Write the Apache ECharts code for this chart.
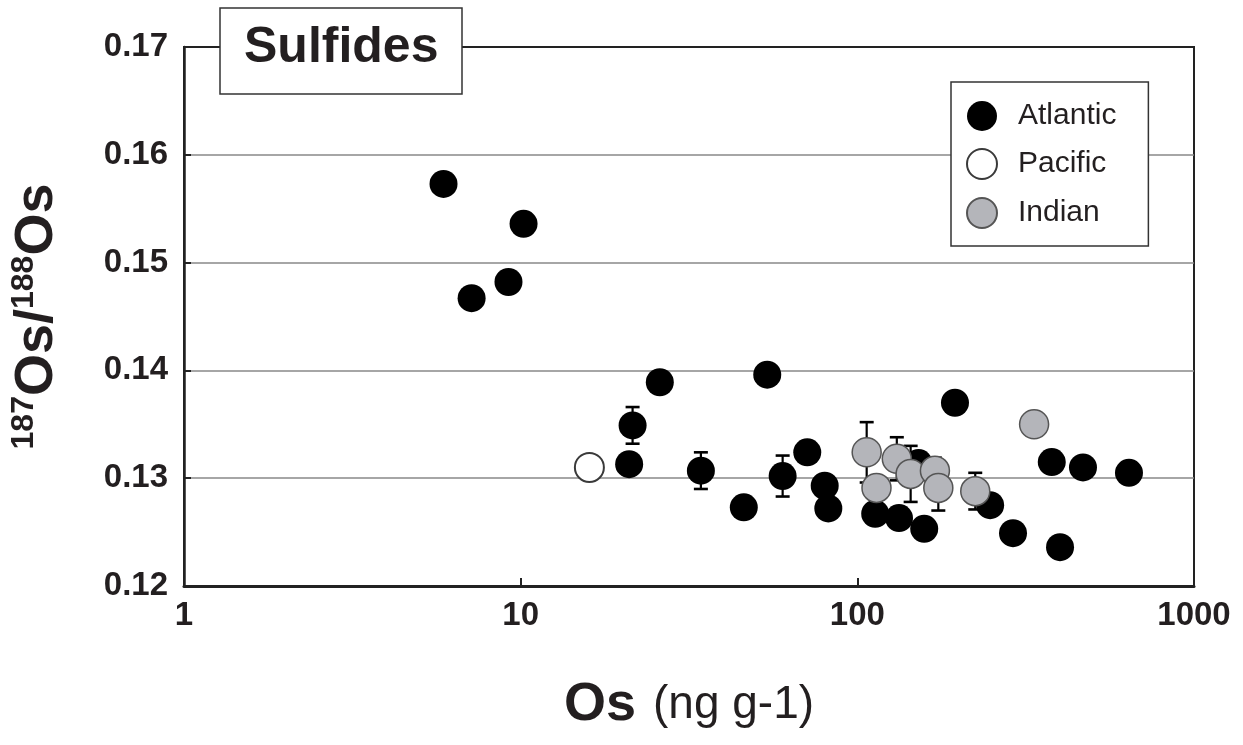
<!DOCTYPE html>
<html>
<head>
<meta charset="utf-8">
<script src="https://cdn.jsdelivr.net/npm/echarts@6/dist/echarts.min.js"></script>
<style>
html,body{margin:0;padding:0;background:#fff;}
#chart{width:1243px;height:745px;}
</style>
</head>
<body>
<div id="chart"></div>
<script>
// ---- data ----
const xTickLabels = ['1', '10', '100', '1000'];
const yTickValues = [0.12, 0.13, 0.14, 0.15, 0.16, 0.17];

const atlanticX = [5.9, 7.15, 9.2, 10.2, 25.9, 54, 21.5, 21, 34.3, 46, 60, 71, 80, 82, 113, 133, 158, 152, 195, 248, 290, 378, 400, 468, 641];
const atlanticY = [0.1573, 0.1467, 0.1482, 0.1536, 0.1389, 0.1396, 0.1349, 0.1313, 0.1307, 0.1273, 0.1302, 0.1324, 0.1293, 0.1272, 0.1267, 0.1263, 0.1253, 0.1314, 0.1370, 0.1275, 0.1249, 0.1315, 0.1236, 0.1310, 0.1305];
const atlanticErr = [0, 0, 0, 0, 0, 0, 0.0017, 0, 0.0017, 0, 0.0019, 0, 0, 0, 0, 0, 0, 0, 0, 0, 0, 0, 0, 0, 0];

const pacificX = [16.0];
const pacificY = [0.1310];

const indianX = [106.6, 114, 131, 144, 170, 174, 224, 335];
const indianY = [0.1324, 0.1291, 0.1318, 0.1304, 0.1307, 0.1291, 0.1288, 0.1350];
const indianErr = [0.0028, 0, 0.0020, 0.0026, 0.0012, 0.0021, 0.0017, 0];

// ---- build ----
const zip = (xs, ys) => xs.map((x, i) => [x, ys[i]]);
const zipErr = (xs, ys, es) => xs.map((x, i) => [x, ys[i], es[i]]).filter(d => d[2] > 0);

const TXT = '#231f20';
const SANS = '"Liberation Sans", Arial, sans-serif';

function errRender(params, api) {
  const x = api.value(0), y = api.value(1), e = api.value(2);
  const top = api.coord([x, y + e]);
  const bot = api.coord([x, y - e]);
  const cap = 7;
  return {
    type: 'group',
    children: [
      { type: 'line', shape: { x1: top[0], y1: top[1], x2: bot[0], y2: bot[1] }, style: { stroke: '#000', lineWidth: 2.2 } },
      { type: 'line', shape: { x1: top[0] - cap, y1: top[1], x2: top[0] + cap, y2: top[1] }, style: { stroke: '#000', lineWidth: 2.6 } },
      { type: 'line', shape: { x1: bot[0] - cap, y1: bot[1], x2: bot[0] + cap, y2: bot[1] }, style: { stroke: '#000', lineWidth: 2.6 } }
    ]
  };
}

const chart = echarts.init(document.getElementById('chart'), null, { renderer: 'canvas' });
chart.setOption({
  animation: false,
  backgroundColor: '#fff',
  title: {
    text: 'Sulfides',
    left: 220, top: 8,
    padding: [15, 24, 21, 24],
    borderColor: '#333', borderWidth: 1.5,
    backgroundColor: '#fff',
    textStyle: { fontFamily: SANS, fontSize: 50, fontWeight: 'bold', color: TXT, lineHeight: 50 }
  },
  legend: {
    data: ['Atlantic', 'Pacific', 'Indian'],
    orient: 'vertical',
    left: 951, top: 82,
    itemWidth: 30, itemHeight: 30, itemGap: 17,
    padding: [19, 32, 17, 15],
    borderColor: '#333', borderWidth: 1.5,
    backgroundColor: '#fff',
    icon: 'circle',
    textStyle: { fontFamily: SANS, fontSize: 30, color: TXT, padding: [0, 0, 0, 16] }
  },
  grid: {
    left: 183, right: 49, top: 47, bottom: 159,
    show: true, borderColor: '#222', borderWidth: 2, backgroundColor: 'transparent'
  },
  xAxis: {
    type: 'log', logBase: 10, min: 1, max: 1000,
    name: '{b|Os}{n|(ng g-1)}',
    nameLocation: 'middle', nameGap: 90,
    nameTextStyle: {
      rich: {
        b: { fontFamily: SANS, fontSize: 54, fontWeight: 'bold', color: TXT, lineHeight: 58 },
        n: { fontFamily: SANS, fontSize: 46, color: TXT, lineHeight: 58, padding: [0, 0, 0, 17] }
      }
    },
    axisLine: { show: true, lineStyle: { color: '#222', width: 3 } },
    axisTick: { show: true, inside: true, length: 8, lineStyle: { color: '#222', width: 2 } },
    minorTick: { show: false },
    splitLine: { show: false },
    axisLabel: {
      margin: 13, fontFamily: SANS, fontSize: 33, fontWeight: 'bold', color: TXT,
      formatter: v => xTickLabels[Math.round(Math.log10(v))]
    }
  },
  yAxis: {
    type: 'value', min: 0.12, max: 0.17, interval: 0.01,
    name: '{sup|187}{os|Os/}{sup|188}{os|Os}',
    nameLocation: 'middle', nameGap: 118,
    nameTextStyle: {
      rich: {
        sup: { fontFamily: SANS, fontSize: 32, fontWeight: 'bold', color: TXT, verticalAlign: 'top', lineHeight: 32 },
        os: { fontFamily: SANS, fontSize: 54, fontWeight: 'bold', color: TXT, lineHeight: 58 }
      }
    },
    axisLine: { show: true, lineStyle: { color: '#222', width: 2.5 } },
    axisTick: { show: true, inside: true, length: 7, lineStyle: { color: '#222', width: 2 } },
    splitLine: { show: true, showMinLine: false, showMaxLine: false, lineStyle: { color: '#888', width: 1.5 } },
    axisLabel: {
      margin: 16, fontFamily: SANS, fontSize: 33, fontWeight: 'bold', color: TXT,
      formatter: v => v.toFixed(2)
    }
  },
  series: [
    {
      name: 'Atlantic', type: 'scatter', symbol: 'circle', symbolSize: 28,
      itemStyle: { color: '#000', borderColor: '#000', borderWidth: 0, opacity: 1 },
      data: zip(atlanticX, atlanticY), z: 2
    },
    {
      name: 'AtlanticErr', type: 'custom', renderItem: errRender,
      encode: { x: 0, y: 1 }, data: zipErr(atlanticX, atlanticY, atlanticErr), z: 3, silent: true
    },
    {
      name: 'Pacific', type: 'scatter', symbol: 'circle', symbolSize: 29,
      itemStyle: { color: '#fff', borderColor: '#3a3a3a', borderWidth: 2, opacity: 1 },
      data: zip(pacificX, pacificY), z: 4
    },
    {
      name: 'IndianErr', type: 'custom', renderItem: errRender,
      encode: { x: 0, y: 1 }, data: zipErr(indianX, indianY, indianErr), z: 5, silent: true
    },
    {
      name: 'Indian', type: 'scatter', symbol: 'circle', symbolSize: 29,
      itemStyle: { color: '#b4b5ba', borderColor: '#555', borderWidth: 1.5, opacity: 1 },
      data: zip(indianX, indianY), z: 6
    }
  ]
});
</script>
</body>
</html>
